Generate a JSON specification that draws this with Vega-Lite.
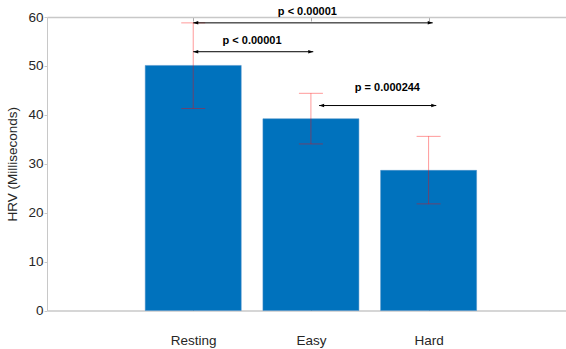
{
  "$schema": "https://vega.github.io/schema/vega-lite/v6.json",
  "width": 519,
  "height": 293.5,
  "autosize": {"type": "none"},
  "padding": {"left": 47, "top": 17, "right": 0, "bottom": 38.5},
  "background": "white",
  "config": {
    "view": {"stroke": null},
    "axis": {"grid": false, "labelFont": "Liberation Sans", "titleFont": "Liberation Sans", "labelColor": "#262626", "titleColor": "#262626", "domainColor": "#c8c8c8", "tickColor": "#c8c8c8", "titleFontWeight": "normal"},
    "text": {"font": "Liberation Sans"}
  },
  "datasets": {
    "bars": [
      {"condition": "Resting", "pos": 1, "mean": 50.1, "lo": 41.3, "hi": 58.8},
      {"condition": "Easy", "pos": 2, "mean": 39.2, "lo": 34.05, "hi": 44.4},
      {"condition": "Hard", "pos": 3, "mean": 28.65, "lo": 21.8, "hi": 35.6}
    ],
    "arrows": [
      {"x1": 1, "x2": 3.035, "y": 58.8, "label": "p < 0.00001", "tx": 1.97, "ty": 61.0},
      {"x1": 1, "x2": 2.02, "y": 52.9, "label": "p < 0.00001", "tx": 1.5, "ty": 55.1},
      {"x1": 2.07, "x2": 3.065, "y": 41.9, "label": "p = 0.000244", "tx": 2.65, "ty": 45.5}
    ]
  },
  "layer": [
    {
      "data": {"name": "bars"},
      "mark": {"type": "bar", "width": 96, "color": "#0072BD", "stroke": "#4a8fc8", "strokeWidth": 0.5},
      "encoding": {
        "x": {"field": "pos", "type": "quantitative", "scale": {"domain": [-0.2, 4.125], "nice": false, "zero": false},
          "axis": {"orient": "bottom", "values": [1, 2, 3], "title": null, "labelExpr": "datum.value == 1 ? 'Resting' : datum.value == 2 ? 'Easy' : 'Hard'", "labelFontSize": 13.5, "tickSize": -4, "tickColor": "#555555", "labelPadding": 27, "domainWidth": 1.5}},
        "y": {"field": "mean", "type": "quantitative", "scale": {"domain": [0, 60], "nice": false},
          "axis": {"orient": "left", "values": [0, 10, 20, 30, 40, 50, 60], "title": "HRV (Milliseconds)", "titleFontSize": 13.5, "labelFontSize": 13.5, "tickSize": 3, "labelPadding": 1, "titlePadding": 8}}
      }
    },
    {
      "data": {"name": "bars"},
      "mark": {"type": "rule", "color": "#ff0000", "opacity": 0.4, "strokeWidth": 1},
      "encoding": {
        "x": {"field": "pos", "type": "quantitative", "axis": null},
        "y": {"field": "lo", "type": "quantitative"},
        "y2": {"field": "hi"}
      }
    },
    {
      "data": {"name": "bars"},
      "mark": {"type": "tick", "orient": "horizontal", "size": 24, "thickness": 1, "color": "#ff0000", "opacity": 0.4},
      "encoding": {
        "x": {"field": "pos", "type": "quantitative", "axis": null},
        "y": {"field": "lo", "type": "quantitative"}
      }
    },
    {
      "data": {"name": "bars"},
      "mark": {"type": "tick", "orient": "horizontal", "size": 24, "thickness": 1, "color": "#ff0000", "opacity": 0.4},
      "encoding": {
        "x": {"field": "pos", "type": "quantitative", "axis": null},
        "y": {"field": "hi", "type": "quantitative"}
      }
    },
    {
      "data": {"name": "arrows"},
      "mark": {"type": "rule", "color": "#000000", "strokeWidth": 1},
      "encoding": {
        "x": {"field": "x1", "type": "quantitative", "axis": null},
        "x2": {"field": "x2"},
        "y": {"field": "y", "type": "quantitative"}
      }
    },
    {
      "data": {"name": "arrows"},
      "mark": {"type": "point", "shape": "M0,0L1,-0.35L1,0.35Z", "filled": true, "color": "#000000", "opacity": 1, "size": 100},
      "encoding": {
        "x": {"field": "x1", "type": "quantitative", "axis": null},
        "y": {"field": "y", "type": "quantitative"}
      }
    },
    {
      "data": {"name": "arrows"},
      "mark": {"type": "point", "shape": "M0,0L-1,-0.35L-1,0.35Z", "filled": true, "color": "#000000", "opacity": 1, "size": 100},
      "encoding": {
        "x": {"field": "x2", "type": "quantitative", "axis": null},
        "y": {"field": "y", "type": "quantitative"}
      }
    },
    {
      "data": {"name": "arrows"},
      "mark": {"type": "text", "fontWeight": "bold", "fontSize": 11, "color": "#000000", "baseline": "middle", "align": "center"},
      "encoding": {
        "x": {"field": "tx", "type": "quantitative",
          "axis": {"orient": "top", "values": [1, 2, 3], "labels": false, "title": null, "tickSize": -4, "tickColor": "#aaaaaa", "domainWidth": 1.5}},
        "y": {"field": "ty", "type": "quantitative"},
        "text": {"field": "label"}
      }
    }
  ]
}
